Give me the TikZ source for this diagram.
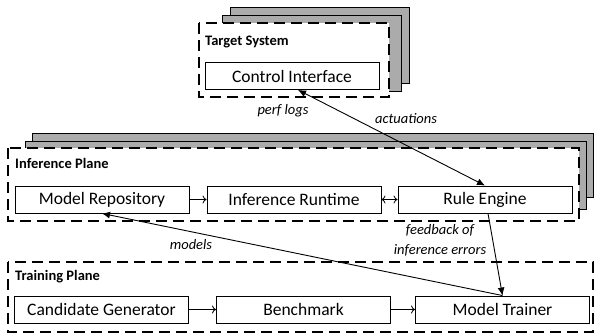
\documentclass[tikz,border=0pt]{standalone}
\usepackage{fontspec}
\setmainfont{Carlito}
\usetikzlibrary{arrows.meta}

\begin{document}
\begin{tikzpicture}[x=1pt,y=-1pt]
 \tikzstyle{blk}=[draw, line width=0.9pt, minimum width=174pt, minimum height=27pt, inner sep=0pt, font=\fontsize{17.5}{20}\selectfont]
 \tikzstyle{layer}=[draw, line width=0.8pt, fill=black!33]
 \tikzstyle{plane}=[draw, fill=white, line width=1.8pt, dash pattern=on 11pt off 6pt]
 \tikzstyle{ttl}=[anchor=west, inner sep=0pt, font=\fontsize{14.5}{16}\selectfont\bfseries]
 \tikzstyle{lbl}=[inner sep=0pt, font=\fontsize{14.5}{20}\selectfont\itshape, align=center]
\useasboundingbox (0,0) rectangle (594,336);

% target system with its stacked copies
\draw[layer] (230,7) rectangle (409,83);
\draw[layer] (222,15) rectangle (401,91);
\draw[plane] (199,23) rectangle (389,97);
\node[ttl](tsys) at (205,42){Target System};
\node[blk](ci) at (292,76){Control Interface};

% inference plane
\draw[layer] (32,133) rectangle (593,197);
\draw[layer] (25,141) rectangle (586,209);
\draw[plane] (8,148) rectangle (579,221);
\node[ttl](iplane) at (15,163){Inference Plane};
\node[blk](mr) at (102,199.5){Model Repository};
\node[blk](ir) at (294,199.5){Inference Runtime};
\node[blk](re) at (485,199.5){Rule Engine};

% training plane
\draw[plane] (8,262) rectangle (593,332);
\node[ttl](tplane) at (15,277){Training Plane};
\node[blk](cg) at (101.5,309.5){Candidate Generator};
\node[blk](bm) at (303.5,309.5){Benchmark};
\node[blk](mt) at (502.5,309.5){Model Trainer};

 \foreach \i/\j in {mr/ir,cg/bm,bm/mt}{\draw[line width=0.8pt, -{To[length=4pt,width=8pt]}] (\i) -- (\j);}
\draw[line width=0.8pt, {To[length=4pt,width=8pt]}-{To[length=4pt,width=8pt]}] (ir) -- (re);

\draw[line width=0.9pt, {Latex[length=8pt,width=7pt]}-{Latex[length=8pt,width=7pt]}] ([xshift=6pt]ci.south) -- (re.north);
\draw[line width=0.9pt, -{Latex[length=8pt,width=7pt]}] ([xshift=3pt]re.south) -- (mt.north);
\draw[line width=0.9pt, -{Latex[length=8pt,width=7pt]}] (mt.north) -- (mr.south);

\node[lbl](perf) at (283,111){perf logs};
\node[lbl](act) at (406,119){actuations};
\node[lbl](fb) at (440,240){feedback of\\inference errors};
\node[lbl](mdl) at (191,245){models};
\end{tikzpicture}
\end{document}
